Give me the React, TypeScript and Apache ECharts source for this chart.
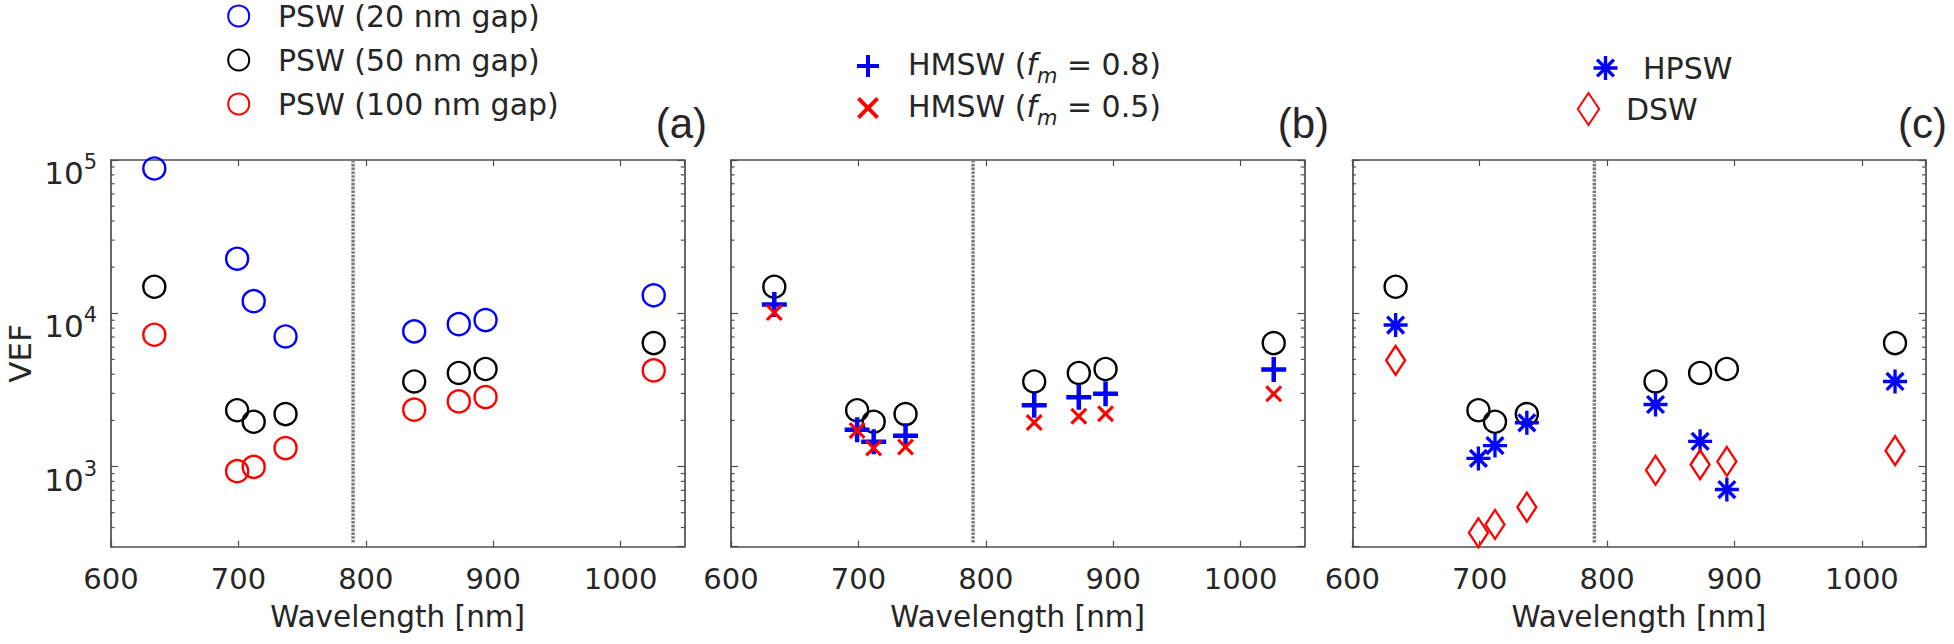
import React, { useEffect, useRef } from 'react';
import * as echarts from 'echarts';

// ---------- data ----------
const wavelengths = [634, 699, 712, 737, 838, 873, 894, 1026];
const vefPsw20 = [88000, 22700, 12000, 7060, 7620, 8490, 9030, 13100];
const vefPsw50 = [14900, 2330, 1960, 2200, 3590, 4080, 4330, 6390];
const vefPsw100 = [7240, 933, 995, 1320, 2350, 2660, 2840, 4240];
const vefHmsw08 = [11400, 1740, 1450, 1590, 2510, 2830, 2980, 4290];
const vefHmsw05 = [10100, 1720, 1320, 1340, 1940, 2130, 2210, 2980];
const vefHpsw = [8380, 1130, 1370, 1930, 2540, 1460, 708, 3590];
const vefDsw = [4930, 370, 419, 543, 946, 1030, 1080, 1270];

const minorTickValues = [
  400, 500, 600, 700, 800, 900,
  2000, 3000, 4000, 5000, 6000, 7000, 8000, 9000,
  20000, 30000, 40000, 50000, 60000, 70000, 80000, 90000,
];
const dividerWavelength = 790;
const panelLabels = ['(a)', '(b)', '(c)'];

const X_MIN = 600;
const X_MAX = 1050;
const X_STEP = 100;
const Y_MIN = 300;
const Y_MAX = 100000;

const N_PSW20 = 'PSW (20 nm gap)';
const N_PSW50 = 'PSW (50 nm gap)';
const N_PSW100 = 'PSW (100 nm gap)';
const N_H08 = 'HMSW (fm = 0.8)';
const N_H05 = 'HMSW (fm = 0.5)';
const N_HPSW = 'HPSW';
const N_DSW = 'DSW';

// ---------- style ----------
const FONT = '"DejaVu Sans", Verdana, sans-serif';
const FONT_PANEL = '"Liberation Sans", Arial, Helvetica, sans-serif';
const TEXT = '#262626';
const AXIS = '#4d4d4d';
const BLUE = '#0000ff';
const RED = '#ff0000';
const BLACK = '#000000';

const PLUS = 'path://M41,0 H59 V41 H100 V59 H59 V100 H41 V59 H0 V41 H41 Z';
const CROSS = 'path://M0,13 L13,0 L50,37 L87,0 L100,13 L63,50 L100,87 L87,100 L50,63 L13,100 L0,87 L37,50 Z';
const STAR = 'path://M43,0 H57 V43 H100 V57 H57 V100 H43 V57 H0 V43 H43 Z M10,20 L20,10 L50,40 L80,10 L90,20 L60,50 L90,80 L80,90 L50,60 L20,90 L10,80 L40,50 Z';
const DIAMOND = 'path://M20,0 L40,30 L20,60 L0,30 Z';

const GRID_LEFTS = [111, 731, 1352.3];
const GRID_TOP = 160;
const GRID_W = 573.3;
const GRID_H = 386.7;
const LABEL_RIGHTS = [707, 1329, 1947];

const pairs = (ys: number[]) => wavelengths.map((w, i) => [w, ys[i]]);

function scatter(name: string, ys: number[], g: number, symbol: string, size: any, color: string, hollow: boolean) {
  return {
    type: 'scatter',
    name,
    data: pairs(ys),
    xAxisIndex: 2 * g,
    yAxisIndex: 2 * g,
    symbol,
    symbolSize: size,
    silent: true,
    z: 3,
    itemStyle: hollow
      ? { color: 'rgba(0,0,0,0)', borderColor: color, borderWidth: 2.4, opacity: 1 }
      : { color, borderWidth: 0, opacity: 1 },
  };
}

function divider(g: number) {
  return {
    type: 'custom',
    silent: true,
    xAxisIndex: 2 * g,
    yAxisIndex: 2 * g,
    z: 2,
    data: [[dividerWavelength, Y_MIN, Y_MAX]],
    renderItem: (_p: any, api: any) => {
      const top = api.coord([api.value(0), api.value(2)]);
      const bot = api.coord([api.value(0), api.value(1)]);
      return {
        type: 'line',
        shape: { x1: top[0], y1: top[1], x2: bot[0], y2: bot[1] - 3 },
        style: { stroke: '#7a7a7a', lineWidth: 3.4, lineDash: [2.6, 1.2] },
      };
    },
  };
}

function minorTicks(g: number) {
  return {
    type: 'custom',
    silent: true,
    xAxisIndex: 2 * g,
    yAxisIndex: 2 * g,
    z: 1,
    data: minorTickValues.map((v) => [X_MIN, v]),
    renderItem: (_p: any, api: any) => {
      const v = api.value(1);
      const pl = api.coord([X_MIN, v]);
      const pr = api.coord([X_MAX, v]);
      const st = { stroke: AXIS, lineWidth: 1.2 };
      return {
        type: 'group',
        children: [
          { type: 'line', shape: { x1: pl[0], y1: pl[1], x2: pl[0] + 3.5, y2: pl[1] }, style: st },
          { type: 'line', shape: { x1: pr[0], y1: pr[1], x2: pr[0] - 3.5, y2: pr[1] }, style: st },
        ],
      };
    },
  };
}

function legendRow(name: string, left: number, top: number, itemWidth: number, itemHeight: number, extra: any = {}) {
  return {
    data: [name], orient: 'vertical', left, top, padding: 0,
    itemWidth, itemHeight, itemGap: 0, selectedMode: false,
    textStyle: { color: TEXT, fontSize: 30, fontFamily: FONT },
    ...extra,
  };
}

const hmswRich = {
  textStyle: {
    color: TEXT, fontSize: 30, fontFamily: FONT,
    rich: {
      n: { fontSize: 30, lineHeight: 34, verticalAlign: 'top', color: TEXT, fontFamily: FONT },
      i: { fontSize: 30, lineHeight: 34, verticalAlign: 'top', fontStyle: 'italic', color: TEXT, fontFamily: FONT },
      m: { fontSize: 21, lineHeight: 21, padding: [16, 0, 0, 0], verticalAlign: 'top', fontStyle: 'italic', color: TEXT, fontFamily: FONT },
    },
  },
  formatter: (name: string) => {
    const val = name.slice(name.indexOf('=') + 2, name.length - 1);
    return `{n|HMSW (}{i|f}{m|m}{n| = ${val})}`;
  },
};

function buildOption() {
  const grid: any[] = [];
  const xAxis: any[] = [];
  const yAxis: any[] = [];
  const axisLine = { show: true, onZero: false, lineStyle: { color: AXIS, width: 1.7 } };
  const axisTick = { show: true, inside: true, length: 6, lineStyle: { color: AXIS, width: 1.2 } };
  for (let g = 0; g < 3; g++) {
    grid.push({ left: GRID_LEFTS[g], top: GRID_TOP, width: GRID_W, height: GRID_H, outerBoundsMode: 'none', containLabel: false });
    xAxis.push({
      type: 'value', gridIndex: g, position: 'bottom', min: X_MIN, max: X_MAX, interval: X_STEP,
      axisLine, axisTick, splitLine: { show: false },
      axisLabel: {
        show: true, margin: 18, color: TEXT, fontSize: 29, fontFamily: FONT,
        showMaxLabel: false,
        formatter: (v: number) => (v > 1000 ? '' : String(v)),
      },
      name: 'Wavelength [nm]', nameLocation: 'middle', nameGap: 55,
      nameTextStyle: { color: TEXT, fontSize: 29.5, fontFamily: FONT },
    });
    xAxis.push({
      type: 'value', gridIndex: g, position: 'top', min: X_MIN, max: X_MAX, interval: X_STEP,
      axisLine, axisTick, splitLine: { show: false }, axisLabel: { show: false },
    });
    yAxis.push({
      type: 'log', logBase: 10, gridIndex: g, position: 'left', min: Y_MIN, max: Y_MAX,
      axisLine, axisTick: { ...axisTick, length: 7 }, splitLine: { show: false },
      axisLabel: g === 0
        ? {
            show: true, margin: 14, color: TEXT, fontFamily: FONT,
            showMinLabel: false,
            formatter: (v: number) => {
              const e = Math.log10(v);
              const r = Math.round(e);
              if (Math.abs(e - r) > 1e-6) return '';
              return `{b|10}{s|${r}}`;
            },
            rich: {
              b: { fontSize: 31, lineHeight: 31, padding: [13, 0, 0, 0], verticalAlign: 'top', color: TEXT, fontFamily: FONT },
              s: { fontSize: 21, lineHeight: 21, padding: [7, 0, 0, 0], verticalAlign: 'top', color: TEXT, fontFamily: FONT },
            },
          }
        : { show: false },
      name: g === 0 ? 'VEF' : '', nameLocation: 'middle', nameGap: 76,
      nameTextStyle: { color: TEXT, fontSize: 31, fontFamily: FONT },
    });
    yAxis.push({
      type: 'log', logBase: 10, gridIndex: g, position: 'right', min: Y_MIN, max: Y_MAX,
      axisLine, axisTick: { ...axisTick, length: 7 }, splitLine: { show: false }, axisLabel: { show: false },
    });
  }

  const series: any[] = [
    divider(0),
    scatter(N_PSW20, vefPsw20, 0, 'circle', 22, BLUE, true),
    scatter(N_PSW50, vefPsw50, 0, 'circle', 22, BLACK, true),
    scatter(N_PSW100, vefPsw100, 0, 'circle', 22, RED, true),
    minorTicks(0),
    divider(1),
    scatter(N_PSW50, vefPsw50, 1, 'circle', 22, BLACK, true),
    scatter(N_H08, vefHmsw08, 1, PLUS, 25, BLUE, false),
    scatter(N_H05, vefHmsw05, 1, CROSS, 17, RED, false),
    minorTicks(1),
    divider(2),
    scatter(N_PSW50, vefPsw50, 2, 'circle', 22, BLACK, true),
    scatter(N_HPSW, vefHpsw, 2, STAR, 24, BLUE, false),
    scatter(N_DSW, vefDsw, 2, DIAMOND, [19, 29], RED, true),
    minorTicks(2),
  ];

  const legend: any[] = [
    legendRow(N_PSW20, 227.2, 1, 68.6, 21),
    legendRow(N_PSW50, 227.2, 45, 68.6, 21),
    legendRow(N_PSW100, 227.2, 89, 68.6, 21),
    legendRow(N_H08, 857, 49, 70, 22, hmswRich),
    legendRow(N_H05, 857, 91, 70, 22, hmswRich),
    legendRow(N_HPSW, 1593.5, 53, 65, 24),
    legendRow(N_DSW, 1576.8, 92, 65, 32),
  ];

  const graphic = panelLabels.map((t, i) => ({
    type: 'text',
    x: LABEL_RIGHTS[i],
    y: 123,
    silent: true,
    style: {
      text: t, fill: TEXT, fontSize: 42, fontFamily: FONT_PANEL,
      textAlign: 'right', textVerticalAlign: 'middle',
    },
  }));

  return {
    animation: false,
    backgroundColor: '#ffffff',
    textStyle: { fontFamily: FONT },
    grid, xAxis, yAxis, series, legend, graphic,
  };
}

export default function App() {
  const ref = useRef<HTMLDivElement>(null);
  useEffect(() => {
    if (!ref.current) return;
    const chart = echarts.init(ref.current, null, { renderer: 'svg' });
    chart.setOption(buildOption() as any);
    return () => chart.dispose();
  }, []);
  return (
    <div
      ref={ref}
      style={{ position: 'fixed', left: 0, top: 0, width: 1954, height: 644, background: '#fff' }}
    />
  );
}
